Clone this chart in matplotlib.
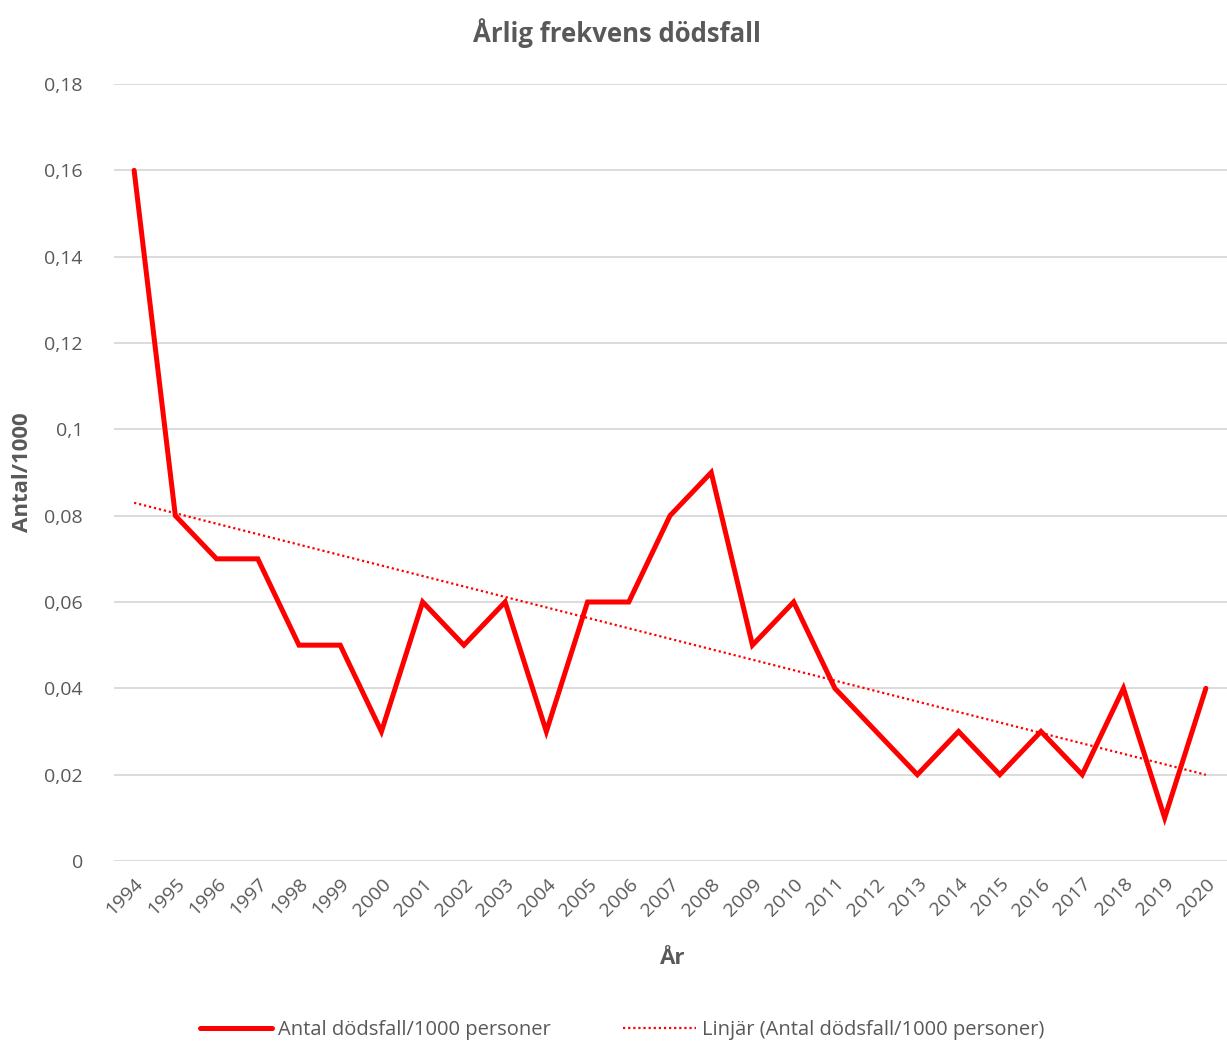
import matplotlib.pyplot as plt
import numpy as np

years = [str(y) for y in range(1994, 2021)]
deaths = [0.16, 0.08, 0.07, 0.07, 0.05, 0.05, 0.03, 0.06, 0.05, 0.06, 0.03,
          0.06, 0.06, 0.08, 0.09, 0.05, 0.06, 0.04, 0.03, 0.02, 0.03, 0.02,
          0.03, 0.02, 0.04, 0.01, 0.04]
yticks = [0, 0.02, 0.04, 0.06, 0.08, 0.1, 0.12, 0.14, 0.16, 0.18]
ytick_labels = ["0", "0,02", "0,04", "0,06", "0,08", "0,1", "0,12", "0,14", "0,16", "0,18"]

plt.rcParams['font.family'] = ['Open Sans', 'DejaVu Sans']
grey = '#595959'

fig = plt.figure(figsize=(12.27, 10.43), dpi=100)
ax = fig.add_axes([113.5/1227, 1-861/1043, (1226.5-113.5)/1227, (861-84)/1043])

x = np.arange(len(years))
ax.plot(x, deaths, color='#ff0000', lw=3.6, solid_joinstyle='miter',
        solid_capstyle='round', label='Antal dödsfall/1000 personer', zorder=3)

# linjär trendlinje
k, m = np.polyfit(x, deaths, 1)
ax.plot(x, k*x+m, color='#ff0000', lw=1.6, ls=(0, (1, 1.3)),
        label='Linjär (Antal dödsfall/1000 personer)', zorder=2)

ax.set_xlim(-0.5, len(years)-0.5)
ax.set_ylim(0, 0.18)
ax.set_yticks(yticks)
ax.set_yticklabels(ytick_labels)
ax.set_xticks(x)
ax.set_xticklabels(years, rotation=45, ha='right', rotation_mode='anchor')
ax.tick_params(length=0, labelsize=14, colors=grey, pad=10)
ax.tick_params(axis='y', pad=22)
ax.grid(axis='y', color='#d9d9d9', lw=1.3)
ax.set_axisbelow(True)
for s in ax.spines.values():
    s.set_visible(False)

fig.text(617/1227, 1-33/1043, 'Årlig frekvens dödsfall', ha='center', va='center',
         fontsize=18.5, fontweight='bold', color=grey)
fig.text(673/1227, 1-958/1043, 'År', ha='center', va='center',
         fontsize=16, fontweight='bold', color=grey)
fig.text(23/1227, 1-472/1043, 'Antal/1000', ha='center', va='center', rotation=90,
         fontsize=16, fontweight='bold', color=grey)

fig.legend(loc='center', bbox_to_anchor=(622/1227, 1-1030/1043), ncol=2,
           frameon=False, fontsize=14.5, labelcolor=grey, handlelength=3.6,
           handletextpad=0.3, columnspacing=3.6)

fig.savefig('out.png', dpi=100)
